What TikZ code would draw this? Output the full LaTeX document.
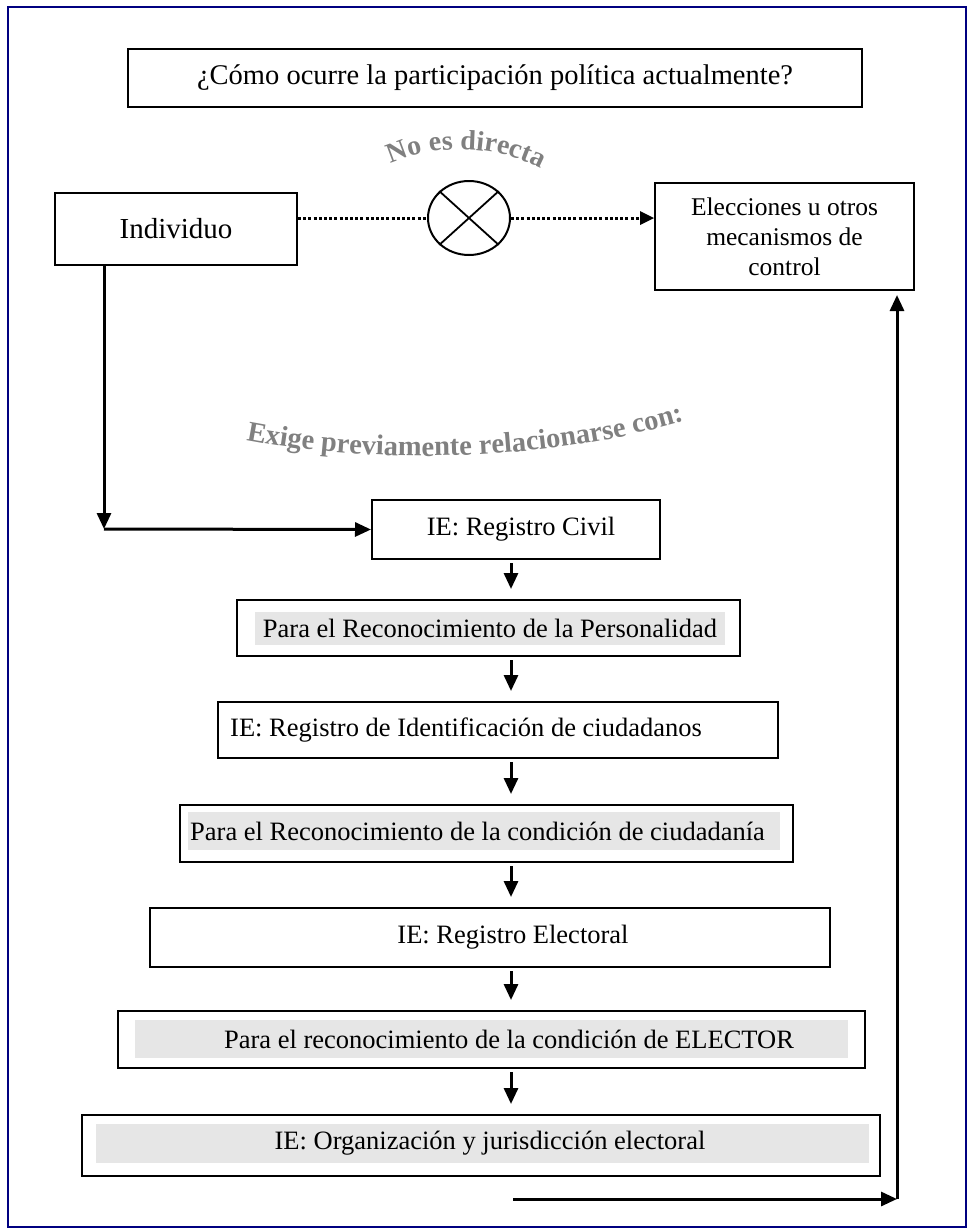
\documentclass[tikz,border=0pt]{standalone}
\usepackage{fontspec}
\setmainfont{Liberation Serif}
\usetikzlibrary{arrows.meta,shapes.geometric,decorations.text,calc}
\definecolor{hlgray}{HTML}{E6E6E6}
\definecolor{framenavy}{HTML}{000080}
\definecolor{wagray}{HTML}{808080}
\begin{document}
\begin{tikzpicture}[x=1pt,y=-1pt,
  box/.style={draw=black,line width=2pt,rectangle,inner sep=0pt},
  hl/.style={fill=hlgray,draw=none,rectangle,inner sep=0pt},
  txt/.style={inner sep=0pt,font=\fontsize{26.5}{30}\selectfont},
  arr/.style={line width=3pt,-{Triangle[length=16pt,width=14pt]}},
  smallarr/.style={line width=3pt,-{Triangle[length=16pt,width=14pt]},shorten <=3pt,shorten >=10pt},
  dotline/.style={line width=3pt,dash pattern=on 3pt off 2.2pt}
]
\useasboundingbox (0,0) rectangle (973,1232);
\draw[framenavy,line width=2.2pt] (8,7) rectangle (966,1227);

% title
\node[box,minimum width=734pt,minimum height=58pt,font=\fontsize{28.5}{30}\selectfont] (title) at (495,78) {¿Cómo ocurre la participación política actualmente?};

% top row
\node[box,minimum width=242pt,minimum height=72pt,font=\fontsize{29}{32}\selectfont] (ind) at (176,229) {Individuo};
\node[box,minimum width=259pt,minimum height=107pt,align=center,font=\fontsize{25.5}{30}\selectfont] (elec) at (784.5,236.5) {Elecciones u otros\\mecanismos de\\control};
\node[draw=black,line width=2pt,ellipse,minimum width=82pt,minimum height=74pt,inner sep=0pt] (circ) at (469,218) {};
\draw[line width=1.8pt] (circ.north west) -- (circ.south east);
\draw[line width=1.8pt] (circ.north east) -- (circ.south west);
\draw[dotline] (ind.east |- circ.west) -- (circ.west);
\draw[dotline] (circ.east) -- ($(circ.east -| elec.west)+(-12,0)$);
\path[fill=black] ($(circ.east -| elec.west)+(-14,-7)$) -- (circ.east -| elec.west) -- ($(circ.east -| elec.west)+(-14,7)$) -- cycle;

% curved texts
\path[decorate,decoration={text along path,text align=center,
  text={|\fontsize{28}{28}\selectfont\bfseries\color{wagray}|No es directa}}]
  (375,172) .. controls (425,142) and (500,140) .. (556,178);
\path[decorate,decoration={text along path,text align=center,
  text={|\fontsize{28.5}{28.5}\selectfont\bfseries\color{wagray}|Exige previamente relacionarse con:}}]
  (236,438) .. controls (380,468) and (560,460) .. (694,418);

% chain boxes
\node[box,minimum width=288pt,minimum height=59pt] (rc) at (516,529.5) {};
\node[txt] (rct) at (521,529) {IE: Registro Civil};

\node[box,minimum width=503pt,minimum height=56pt] (p1) at (488.5,628) {};
\node[hl,minimum width=470pt,minimum height=33pt] (p1h) at (490,628.5) {};
\node[txt] (p1t) at (490,628) {Para el Reconocimiento de la Personalidad};

\node[box,minimum width=560pt,minimum height=56pt] (ri) at (498,730) {};
\node[txt,anchor=west] (rit) at (230,730) {IE: Registro de Identificación de ciudadanos};

\node[box,minimum width=613pt,minimum height=57pt] (p2) at (486.5,833.5) {};
\node[hl,minimum width=592pt,minimum height=38pt] (p2h) at (484,831) {};
\node[txt,anchor=west] (p2t) at (190,831) {Para el Reconocimiento de la condición de ciudadanía};

\node[box,minimum width=680pt,minimum height=59pt] (re) at (490,937.5) {};
\node[txt] (ret) at (513,937) {IE: Registro Electoral};

\node[box,minimum width=747pt,minimum height=57pt] (p3) at (491.5,1039.5) {};
\node[hl,minimum width=713pt,minimum height=38pt] (p3h) at (491.5,1039) {};
\node[txt] (p3t) at (509,1039) {Para el reconocimiento de la condición de ELECTOR};

\node[box,minimum width=798pt,minimum height=61pt] (org) at (481,1145.5) {};
\node[hl,minimum width=773pt,minimum height=39pt] (orgh) at (482,1143) {};
\node[txt] (orgt) at (490,1143) {IE: Organización y jurisdicción electoral};

% small arrows
\coordinate (ax) at (511,0);
\draw[smallarr] (rc.south -| ax) -- (p1.north -| ax);
\draw[smallarr] (p1.south -| ax) -- (ri.north -| ax);
\draw[smallarr] (ri.south -| ax) -- (p2.north -| ax);
\draw[smallarr] (p2.south -| ax) -- (re.north -| ax);
\draw[smallarr] (re.south -| ax) -- (p3.north -| ax);
\draw[smallarr] (p3.south -| ax) -- (org.north -| ax);

% left connector
\coordinate (lc) at (104,529);
\draw[arr] (ind.south -| lc) -- (lc);
\draw[arr] (lc) -- (rc.west);

% right connector
\coordinate (bs) at (513,1199);
\coordinate (bc) at (897,1199);
\draw[arr] (bs) -- (bc);
\draw[arr,shorten >=4pt] (bc) -- (elec.south -| bc);
\end{tikzpicture}
\end{document}
